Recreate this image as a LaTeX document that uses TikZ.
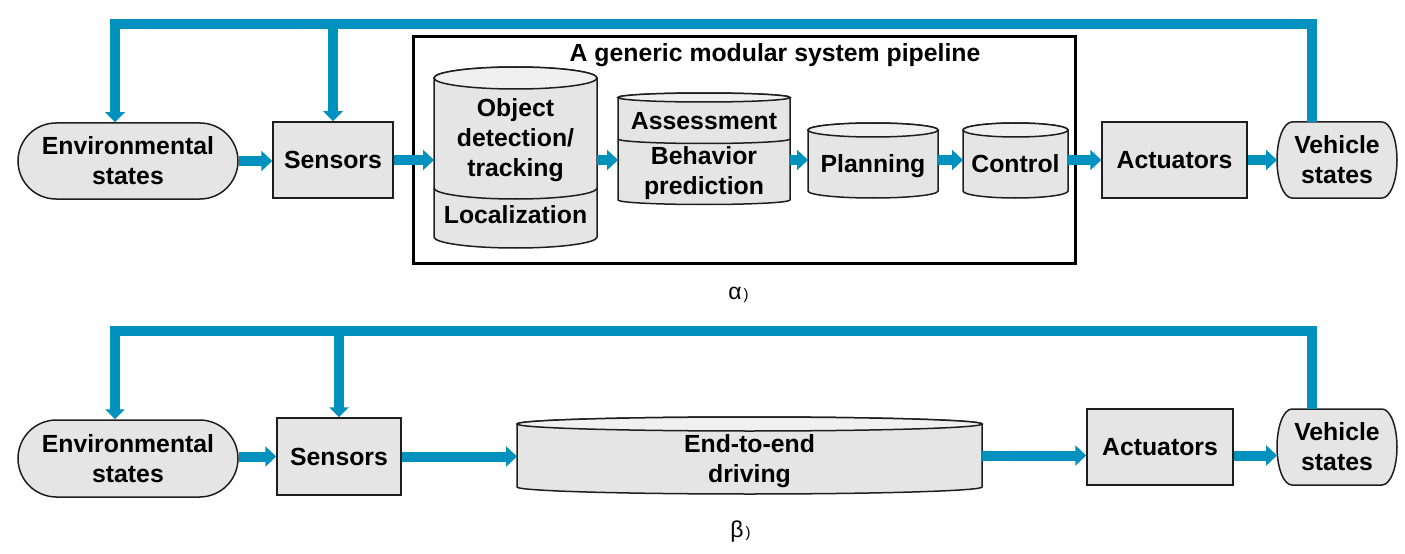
\documentclass[tikz,border=0pt]{standalone}
\usepackage{fontspec}
\setmainfont{Liberation Sans}
\usetikzlibrary{arrows.meta,shapes.misc}

\definecolor{flowblue}{RGB}{0,145,190}
\definecolor{boxfill}{RGB}{229,229,229}
\definecolor{capfill}{RGB}{240,240,240}
\definecolor{edgegray}{RGB}{30,30,30}

\tikzset{
  txt/.style={font=\bfseries\fontsize{12.4}{15}\selectfont, align=center, inner sep=0pt},
  box/.style={txt, draw=edgegray, line width=0.75pt, fill=boxfill},
  pill/.style={txt, rounded rectangle, draw=edgegray, line width=0.75pt, fill=boxfill},
  slot/.style={inner sep=0pt, outer sep=0pt},
  drumedge/.style={draw=edgegray, line width=0.75pt},
  flow/.style={draw=flowblue, line width=5pt, -{Triangle[length=5.5pt,width=10pt]}},
  feed/.style={draw=flowblue, line width=4.75pt, -{Triangle[length=5pt,width=9.5pt]}},
  caption/.style={anchor=base west, inner sep=0pt, font=\fontsize{11.5}{13}\selectfont}
}

% drum-shaped module: name, centre x, half width, top ellipse y, bottom rim y, ellipse half height
\newcommand\drumshape[6]{%
  \filldraw[drumedge, fill=boxfill] ({#2-#3},#4) -- ({#2-#3},#5)
    arc[start angle=180, end angle=360, x radius=#3, y radius=#6]
    -- ({#2+#3},#4)
    arc[start angle=0, end angle=180, x radius=#3, y radius=#6] -- cycle;
  \filldraw[drumedge, fill=capfill] (#2,#4) ellipse[x radius=#3, y radius=#6];
  \node[slot, minimum width={#3*1pt}, minimum height={(#4-#5)*0.5pt}] (#1) at (#2,{(#4+#5)/2}) {};
}
% curved seam between two stacked parts of a drum
\newcommand\drumsplit[4]{%
  \draw[drumedge] ({#1-#2},#3) arc[start angle=180, end angle=360, x radius=#2, y radius=#4];
}
% box with elliptic left and right ends: name, centre x, centre y, half width, half height, end bulge, text
\newcommand\capsule[7]{%
  \filldraw[drumedge, fill=boxfill] ({#2-#4+#6},{#3+#5}) -- ({#2+#4-#6},{#3+#5})
    arc[start angle=90, end angle=-90, x radius=#6, y radius=#5]
    -- ({#2-#4+#6},{#3-#5})
    arc[start angle=270, end angle=90, x radius=#6, y radius=#5] -- cycle;
  \node[txt, outer sep=0pt, minimum width={#4*1pt}, minimum height={#5*1pt}] (#1) at (#2,#3) {#7};
}

\begin{document}
\begin{tikzpicture}[x=0.5pt, y=0.5pt]
\useasboundingbox (0,0) rectangle (1405,553);

% ---------------- modular pipeline ----------------
\node[pill, minimum width=110pt, minimum height=38pt] (envA) at (128,392) {Environmental\\states};
\node[box, minimum width=60pt, minimum height=38pt] (sensA) at (333,393) {Sensors};
\node[draw=black, line width=1.5pt, minimum width=331pt, minimum height=113pt, inner sep=0pt] (pipeA) at (744,403) {};
\node[txt, anchor=base] (pipeTitle) at (775,491) {A generic modular system pipeline};

\drumshape{objA}{515.5}{81.5}{475}{316}{11}
\drumsplit{515.5}{81.5}{365}{11}
\node[txt] (objTxt) at (515.5,412.4) {Object\\detection/\\tracking};
\node[txt] (locTxt) at (515.5,338) {Localization};

\drumshape{predA}{704}{86}{455.5}{353}{4.5}
\drumsplit{704}{86}{414}{4.5}
\node[txt] (assTxt) at (704,432) {Assessment};
\node[txt] (behTxt) at (704,380) {Behavior\\prediction};

\drumshape{planA}{873}{65}{423}{362}{7}
\node[txt] (planTxt) at (873,386.5) {Planning};

\drumshape{ctrlA}{1015.5}{52.5}{423}{362}{7}
\node[txt] (ctrlTxt) at (1015.5,389) {Control};

\node[box, minimum width=72.5pt, minimum height=38pt] (actA) at (1174.5,393) {Actuators};
\capsule{vehA}{1337}{393}{60}{38}{15}{Vehicle\\states}

\draw[flow] (envA.east) -- (envA.east -| sensA.west);
\draw[flow] (sensA.east) -- (sensA.east -| objA.west);
\draw[flow] (objA.east |- sensA) -- (predA.west |- sensA);
\draw[flow] (predA.east |- sensA) -- (planA.west |- sensA);
\draw[flow] (planA.east |- sensA) -- (ctrlA.west |- sensA);
\draw[flow] (ctrlA.east |- sensA) -- (actA.west);
\draw[flow] (actA.east) -- (vehA.west);

\coordinate (fbLA) at (115,529);
\coordinate (fbMA) at (333,529);
\coordinate (fbRA) at (1312,529);
\draw[feed] (vehA.north -| fbRA) -- (fbRA) -- (fbLA) -- (fbLA |- envA.north);
\draw[feed] (fbMA) -- (fbMA |- sensA.north);

\node[caption] (capA) at (728,254) {α\kern1pt{\fontsize{7.5}{9}\selectfont)}};

% ---------------- end-to-end ----------------
\node[pill, minimum width=110pt, minimum height=38.5pt] (envB) at (128,94.5) {Environmental\\states};
\node[box, minimum width=62pt, minimum height=38.5pt] (sensB) at (339,96.5) {Sensors};

\drumshape{e2eB}{749.5}{232.5}{129}{66}{7}
\node[txt] (e2eTxt) at (749.5,92) {End-to-end\\driving};

\node[box, minimum width=73pt, minimum height=38pt] (actB) at (1160,106) {Actuators};
\capsule{vehB}{1337}{106}{60}{38}{15}{Vehicle\\states}

\draw[flow] (envB.east |- sensB) -- (sensB.west);
\draw[flow] (sensB.east) -- (sensB.east -| e2eB.west);
\draw[flow] (e2eB.east) -- (e2eB.east -| actB.west);
\draw[flow] (actB.east |- e2eB) -- (vehB.west |- e2eB);

\coordinate (fbLB) at (115,222);
\coordinate (fbMB) at (339,222);
\coordinate (fbRB) at (1312,222);
\draw[feed] (vehB.north -| fbRB) -- (fbRB) -- (fbLB) -- (fbLB |- envB.north);
\draw[feed] (fbMB) -- (fbMB |- sensB.north);

\node[caption] (capB) at (730,16) {β\kern1pt{\fontsize{7.5}{9}\selectfont)}};
\end{tikzpicture}
\end{document}
